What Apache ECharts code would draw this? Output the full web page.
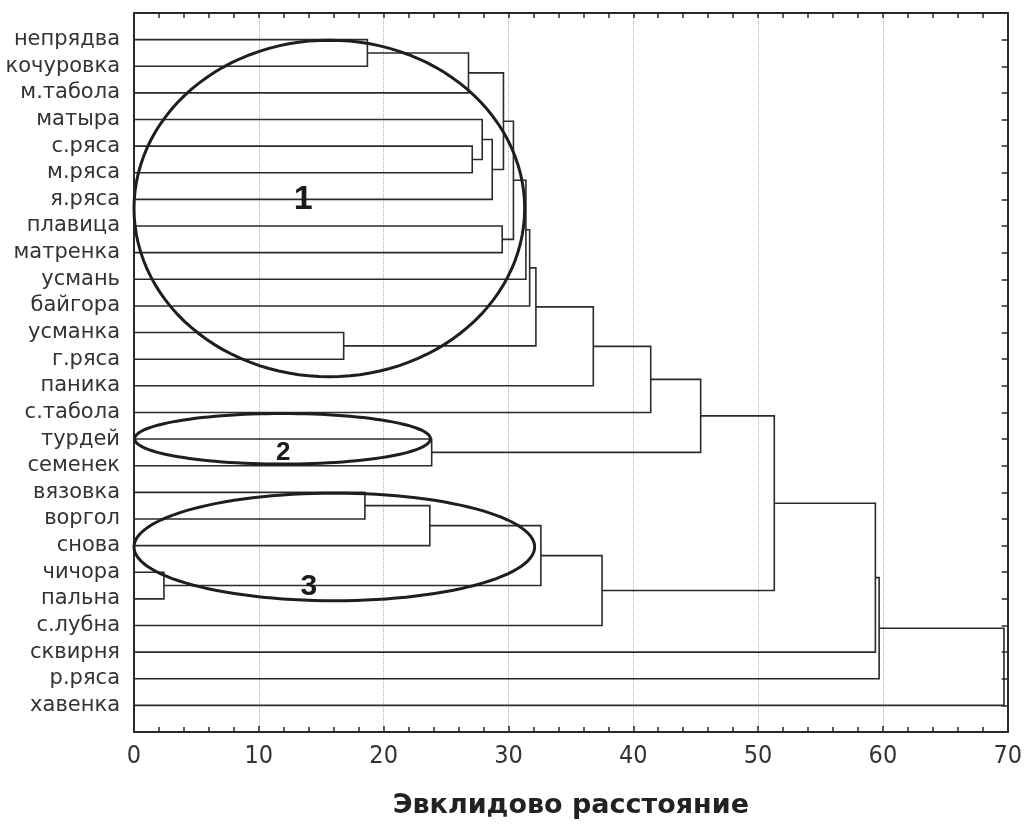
<!DOCTYPE html>
<html>
<head>
<meta charset="utf-8">
<script src="https://cdn.jsdelivr.net/npm/echarts@6/dist/echarts.min.js"></script>
<style>
html,body{margin:0;padding:0;background:#fff;}
#chart{width:1025px;height:824px;}
</style>
</head>
<body>
<div id="chart"></div>
<script>
// Leaves, top to bottom
const categories = ['непрядва','кочуровка','м.табола','матыра','с.ряса','м.ряса','я.ряса','плавица','матренка','усмань','байгора','усманка','г.ряса','паника','с.табола','турдей','семенек','вязовка','воргол','снова','чичора','пальна','с.лубна','сквирня','р.ряса','хавенка'];
// Merges: node ids 0..25 are leaves, merge i creates node 26+i
const mergeLeft   = [20,11,17,0,28,15,29,4,3,34,7,32,37,38,39,40,30,41,42,43,45,46,47,48,49];
const mergeRight  = [21,12,18,1,19,16,2,5,33,6,8,35,36,9,10,27,26,13,22,14,31,44,23,24,25];
const mergeHeight = [2.4,16.8,18.5,18.7,23.7,23.85,26.8,27.1,27.9,28.7,29.5,29.6,30.4,31.4,31.7,32.2,32.6,36.8,37.5,41.4,45.4,51.3,59.4,59.7,69.7];
const xTicks = [0,10,20,30,40,50,60,70];
// Hand-drawn group annotations (in axis units: distance, row)
const groupLabels = ['1','2','3'];
const groupCx = [15.65, 11.9, 16.05];
const groupCy = [6.34, 14.99, 19.05];
const groupRx = [15.65, 11.85, 16.05];
const groupRy = [6.32, 0.95, 2.02];
const labelX = [13.55, 11.95, 14.0];
const labelY = [6.0, 15.5, 20.55];

// build node positions
const nodeX = [], nodeY = [];
categories.forEach((c, i) => { nodeX.push(0); nodeY.push(i); });
const linkData = [];
mergeHeight.forEach((h, i) => {
  const a = mergeLeft[i], b = mergeRight[i];
  linkData.push([nodeX[a], nodeY[a], h, nodeX[b], nodeY[b]]);
  nodeX.push(h);
  nodeY.push((nodeY[a] + nodeY[b]) / 2);
});

const ellipseData = groupCx.map((c, i) => [c, groupCy[i], groupRx[i], groupRy[i]]);
const labelData = labelX.map((x, i) => [x, labelY[i], groupLabels[i]]);
const labelSizes = [34, 26, 30];

const chart = echarts.init(document.getElementById('chart'));
const axisCol = '#2a2a2a';
chart.setOption({
  animation: false,
  backgroundColor: '#fff',
  grid: {left: 134, right: 13, top: 13, bottom: 89},
  xAxis: [{
    type: 'value', min: xTicks[0], max: xTicks[xTicks.length-1], interval: 10,
    position: 'bottom',
    axisLine: {show: true, onZero: false, lineStyle: {color: axisCol, width: 2}},
    axisTick: {show: true, inside: true, length: 6, lineStyle: {color: axisCol, width: 1.5}},
    minorTick: {show: true, splitNumber: 5, length: 5, lineStyle: {color: axisCol, width: 1.5}},
    axisLabel: {color: '#333', fontSize: 25, margin: 12, fontFamily: "'Liberation Sans Narrow', 'DejaVu Sans Condensed', sans-serif"},
    splitLine: {show: true, lineStyle: {color: '#b0b0b0', type: 'dotted', width: 1}},
    name: 'Эвклидово расстояние', nameLocation: 'middle', nameGap: 60,
    nameTextStyle: {fontSize: 27, fontWeight: 'bold', color: '#222', fontFamily: "'DejaVu Sans', sans-serif"}
  }, {
    type: 'value', min: 0, max: 70, interval: 10, position: 'top',
    axisLine: {show: true, onZero: false, lineStyle: {color: axisCol, width: 2}},
    axisTick: {show: true, inside: true, length: 5, lineStyle: {color: axisCol, width: 1.5}},
    minorTick: {show: true, splitNumber: 5, length: 5, lineStyle: {color: axisCol, width: 1.5}},
    axisLabel: {show: false}, splitLine: {show: false}
  }],
  yAxis: [{
    type: 'value', min: -1, max: categories.length, interval: 1, inverse: true,
    position: 'left',
    axisLine: {show: true, onZero: false, lineStyle: {color: axisCol, width: 2}},
    axisTick: {show: false},
    axisLabel: {
      color: '#333', fontSize: 21, margin: 14, fontFamily: "'DejaVu Sans', sans-serif",
      formatter: v => categories[v] || ''
    },
    splitLine: {show: false}
  }, {
    type: 'value', min: -1, max: categories.length, interval: 1, inverse: true,
    position: 'right',
    axisLine: {show: true, onZero: false, lineStyle: {color: axisCol, width: 2}},
    axisTick: {show: true, inside: true, length: 6, lineStyle: {color: axisCol, width: 1.5}},
    axisLabel: {show: false}, splitLine: {show: false}
  }],
  series: [{
    type: 'custom', xAxisIndex: 0, yAxisIndex: 0, data: linkData, silent: true,
    renderItem: (params, api) => {
      const x1 = api.value(0), y1 = api.value(1), h = api.value(2), x2 = api.value(3), y2 = api.value(4);
      const pts = [api.coord([x1, y1]), api.coord([h, y1]), api.coord([h, y2]), api.coord([x2, y2])];
      return {type: 'polyline', shape: {points: pts}, style: {stroke: '#2b2b2b', lineWidth: 1.6, fill: null}};
    }
  }, {
    type: 'custom', xAxisIndex: 0, yAxisIndex: 0, data: ellipseData, silent: true, clip: false,
    renderItem: (params, api) => {
      const c = api.coord([api.value(0), api.value(1)]);
      const s = api.size([api.value(2), api.value(3)]);
      const pts = [];
      for (let k = 0; k < 120; k++) {
        const t = k / 120 * Math.PI * 2;
        pts.push([c[0] + s[0] * Math.cos(t), c[1] + s[1] * Math.sin(t)]);
      }
      return {type: 'polygon', shape: {points: pts}, style: {stroke: '#1e1e1e', lineWidth: 3, fill: null}};
    }
  }, {
    type: 'custom', xAxisIndex: 0, yAxisIndex: 0, data: labelData, silent: true,
    renderItem: (params, api) => {
      const c = api.coord([api.value(0), api.value(1)]);
      return {type: 'text', x: c[0], y: c[1], style: {
        text: groupLabels[params.dataIndex], fill: '#1a1a1a', align: 'center', verticalAlign: 'middle',
        font: 'bold ' + labelSizes[params.dataIndex] + 'px "Liberation Sans", Arial, sans-serif'
      }};
    }
  }]
});
</script>
</body>
</html>
